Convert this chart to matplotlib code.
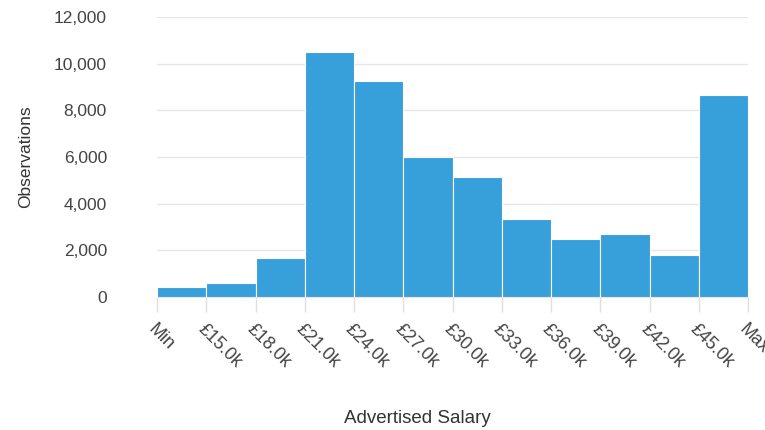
import numpy as np
import matplotlib.pyplot as plt

plt.rcParams['font.family'] = ['Liberation Sans', 'DejaVu Sans']

bin_labels = ['Min', '£15.0k', '£18.0k', '£21.0k', '£24.0k', '£27.0k', '£30.0k',
              '£33.0k', '£36.0k', '£39.0k', '£42.0k', '£45.0k', 'Max']
counts = [450, 600, 1670, 10500, 9270, 5990, 5160, 3330, 2490, 2700, 1800, 8660]

fig = plt.figure(figsize=(7.65, 4.30), dpi=100)
ax = fig.add_axes([157 / 765, 1 - 297 / 430, (748 - 157) / 765, 280 / 430])

x = np.arange(len(counts))
ax.bar(x, counts, width=1.0, align='edge', color='#37a0da',
       edgecolor='#ffffff', linewidth=0.8, zorder=3)

ax.set_xlim(0, len(counts))
ax.set_ylim(0, 12000)
ax.set_yticks(np.arange(0, 12001, 2000))
ax.set_yticklabels([f'{v:,}' for v in range(0, 12001, 2000)])
ax.yaxis.grid(True, color='#e6e6e6', linewidth=1, zorder=0)
ax.tick_params(axis='y', length=0, pad=36, labelsize=12.5, labelcolor='#444444')

ax.set_xticks(np.arange(len(bin_labels)))
ax.set_xticklabels(bin_labels, rotation=-45, ha='left', va='top',
                   rotation_mode='anchor', fontsize=13, color='#444444')
ax.tick_params(axis='x', length=11, width=1, color='#e0e0e0', pad=6)
for i in (0, len(bin_labels) - 1):
    ax.get_xticklines()[2 * i].set_color('#999999')

for s in ['top', 'right', 'left']:
    ax.spines[s].set_visible(False)
ax.spines['bottom'].set_color('#e6e6e6')

ax.set_ylabel('Observations', fontsize=12.5, color='#333333', va='center')
ax.yaxis.set_label_coords(-0.223, 0.5)
ax.set_xlabel('Advertised Salary', fontsize=13.5, color='#333333', va='center')
ax.xaxis.set_label_coords(0.44, -0.435)

fig.savefig('out.png', dpi=100)
